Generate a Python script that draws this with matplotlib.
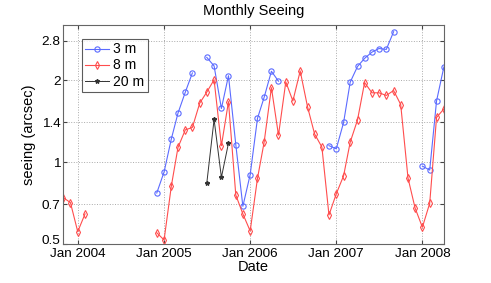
import numpy as np
import pandas as pd
import matplotlib
matplotlib.use("Agg")
import matplotlib.pyplot as plt
import matplotlib.dates as mdates
import matplotlib.transforms as mtransforms
from matplotlib.ticker import FixedLocator, NullLocator

plt.rcParams['font.family'] = ['Liberation Sans', 'DejaVu Sans']

nan = np.nan

# monthly seeing (arcsec), one value per month
months_a = pd.date_range('2003-11-01', '2004-02-01', freq='MS')
seeing_8m_a = [0.74, 0.71, 0.555, 0.645]

months = pd.date_range('2004-12-01', '2008-04-01', freq='MS')
seeing_3m = [0.77, 0.92, 1.22, 1.515, 1.81, 2.13, nan, 2.43, 2.26, 1.576, 2.08, 1.16, 0.688,
             0.90, 1.45, 1.73, 2.16, 1.986, nan, nan, nan, nan, nan, nan, 1.15,
             1.12, 1.40, 1.97, 2.25, 2.41, 2.54, 2.62, 2.60, 3.02, nan, nan, nan,
             0.967, 0.935, 1.68, 2.24]
seeing_8m = [0.55, 0.517, 0.819, 1.133, 1.315, 1.342, 1.648, 1.81, 2.01, 1.149, 1.67, 0.757, 0.645,
             0.558, 0.872, 1.182, 1.88, 1.257, 1.974, 1.68, 2.166, 1.60, 1.27, 1.136, 0.639,
             0.765, 0.891, 1.185, 1.43, 1.964, 1.80, 1.80, 1.76, 1.835, 1.63, 0.874, 0.678,
             0.576, 0.706, 1.46, 1.57]

months_20 = pd.date_range('2005-07-01', '2005-10-01', freq='MS')
seeing_20m = [0.836, 1.436, 0.879, 1.175]

yticks = [0.5, 0.7, 1, 1.4, 2, 2.8]
xtick_dates = pd.to_datetime(['2004-01-01', '2005-01-01', '2006-01-01', '2007-01-01', '2008-01-01'])

blue = '#5b6bff'
red = '#ff4d4d'

fig = plt.figure(figsize=(4.91, 2.83), dpi=100)
ax = fig.add_axes([0.129, 0.138, 0.775, 0.774])

ax.plot(months, seeing_3m, '-o', color=blue, lw=0.8, ms=3.8, mfc='none', mew=0.8, label='3 m')
ax.plot(months, seeing_8m, '-d', color=red, lw=0.8, ms=3.8, mfc='none', mew=0.8, label='8 m')
ax.plot(months_a, seeing_8m_a, '-d', color=red, lw=0.8, ms=3.8, mfc='none', mew=0.8)
ax.plot(months_20, seeing_20m, '-*', color='#333333', lw=0.7, ms=3.2, label='20 m')

ax.set_yscale('log')
ax.set_ylim(0.5, 3.2)
ax.yaxis.set_major_locator(FixedLocator(yticks))
ax.yaxis.set_minor_locator(NullLocator())
ax.set_yticklabels([str(t) for t in yticks])

ax.set_xlim(pd.Timestamp('2003-11-01'), pd.Timestamp('2008-04-01'))
ax.set_xticks(xtick_dates)
ax.xaxis.set_major_formatter(mdates.DateFormatter('Jan %Y'))

ax.grid(True, linestyle=':', color='#aaaaaa', lw=0.7)
ax.tick_params(direction='in', length=3, labelsize=9.7, color='#444444', top=True, right=True, pad=2)
ax.tick_params(axis='x', pad=3)
for s in ax.spines.values():
    s.set_color('#666666')

# nudge the bottom y label up a little so it clears "Jan 2004"
lab = ax.get_yticklabels()[0]
lab.set_transform(lab.get_transform() + mtransforms.ScaledTranslation(0, 3 / 72, fig.dpi_scale_trans))

ax.set_title('Monthly Seeing', fontsize=10.5, pad=7)
ax.set_xlabel('Date', fontsize=10.5, labelpad=0)
ax.set_ylabel('seeing (arcsec)', fontsize=10.5, labelpad=4)

leg = ax.legend(loc='upper left', bbox_to_anchor=(0.049, 0.936), borderaxespad=0, fontsize=10,
                frameon=True, fancybox=False, edgecolor='#333333', handlelength=1.7,
                borderpad=0.25, labelspacing=0.15, handletextpad=0.3)
leg.get_frame().set_linewidth(0.8)

fig.savefig('out.png', dpi=100)
